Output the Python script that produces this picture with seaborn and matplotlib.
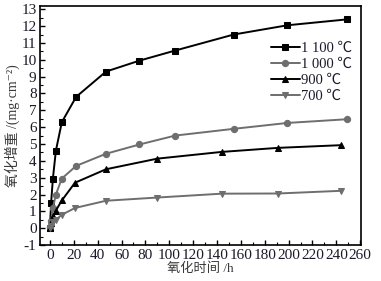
import matplotlib
matplotlib.use("Agg")
import matplotlib.pyplot as plt
import seaborn as sns
import pandas as pd
from matplotlib.ticker import MultipleLocator

sns.set_theme(style="ticks")
plt.rcParams['font.family'] = ['Liberation Serif', 'Noto Sans CJK SC', 'DejaVu Sans']
plt.rcParams['axes.unicode_minus'] = False

labels = ["1 100 ℃", "1 000 ℃", "900 ℃", "700 ℃"]
t_hi = [0, 1, 2.5, 5, 10, 22, 47, 75, 105, 154, 199, 249]
w_1100 = [0.0, 1.5, 2.95, 4.6, 6.3, 7.8, 9.3, 9.95, 10.55, 11.5, 12.05, 12.4]
w_1000 = [0.05, 0.4, 1.2, 2.0, 2.95, 3.7, 4.42, 4.97, 5.5, 5.9, 6.25, 6.47]
t_lo = [0, 1, 2.5, 5, 10, 21, 47, 90, 144, 191, 244]
w_900 = [0.0, 0.3, 0.7, 1.05, 1.65, 2.7, 3.5, 4.13, 4.53, 4.77, 4.93]
w_700 = [0.0, 0.15, 0.35, 0.5, 0.8, 1.2, 1.63, 1.82, 2.05, 2.06, 2.22]

series = [
    (labels[0], t_hi, w_1100),
    (labels[1], t_hi, w_1000),
    (labels[2], t_lo, w_900),
    (labels[3], t_lo, w_700),
]
frames = [pd.DataFrame({"t": t, "w": w, "s": lab}) for lab, t, w in series]
df = pd.concat(frames, ignore_index=True)

colors = ["#000000", "#6e6e6e", "#000000", "#6e6e6e"]
markers = ["s", "o", "^", "v"]
msizes = [5, 4.5, 5, 5]

fig = plt.figure(figsize=(3.81, 2.81), dpi=100)
ax = fig.add_axes([0.105, 0.128, 0.843, 0.851])

for lab, c, m, ms in zip(labels, colors, markers, msizes):
    sub = df[df["s"] == lab]
    sns.lineplot(data=sub, x="t", y="w", ax=ax, color=c, marker=m,
                 markersize=ms, markeredgecolor=c, linewidth=1.4,
                 label=lab, sort=False, estimator=None)

ax.set_xlim(-8.3, 260.8)
ax.set_ylim(-0.95, 13.2)
ax.xaxis.set_major_locator(MultipleLocator(20))
ax.xaxis.set_minor_locator(MultipleLocator(10))
ax.yaxis.set_major_locator(MultipleLocator(1))
ax.yaxis.set_minor_locator(MultipleLocator(0.5))
ax.tick_params(axis='both', which='both', direction='in', top=False, right=False,
               labelsize=11, colors='#000000', labelcolor='#1a1a2a', pad=2.5)
ax.tick_params(which='major', length=3.5, width=1)
ax.tick_params(which='minor', length=2, width=0.8)
ax.set_xticks(list(range(0, 261, 20)))
ax.set_yticks(list(range(-1, 14)))
for sp in ax.spines.values():
    sp.set_linewidth(1.2)
    sp.set_color('#000000')

ax.set_xlabel("氧化时间 /h", fontsize=9.5, color='#3a3a3a', labelpad=1)
ax.set_ylabel("氧化增重 /(mg·cm⁻²)", fontsize=10, color='#3a3a3a', labelpad=1)

leg = ax.legend(loc='upper left', bbox_to_anchor=(0.7, 0.875), frameon=False,
                fontsize=10.5, handlelength=2.0, handletextpad=0.1,
                labelspacing=0.2, borderaxespad=0)
for t in leg.get_texts():
    t.set_color('#1a1a2a')

fig.savefig("out.png", dpi=100)
